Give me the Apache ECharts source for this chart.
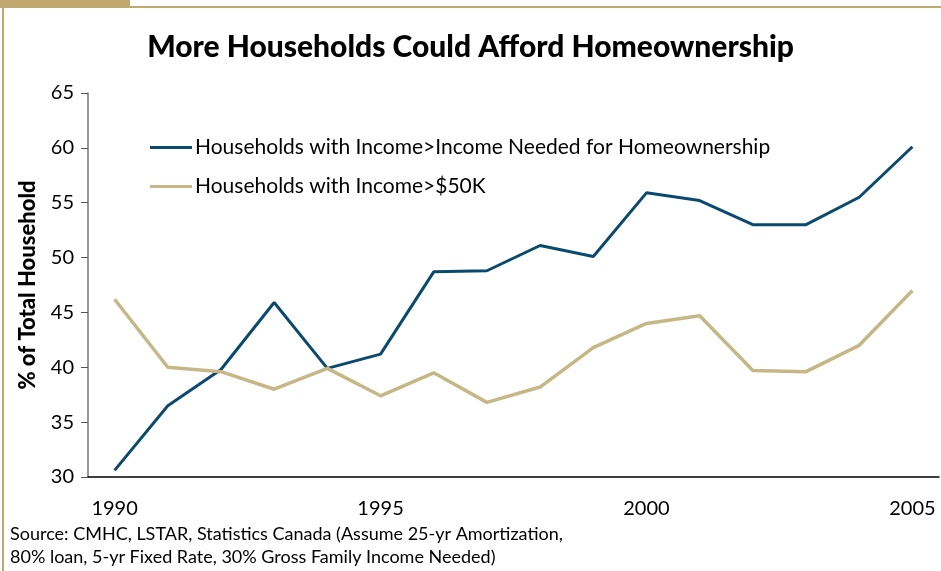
<!DOCTYPE html>
<html>
<head>
<meta charset="utf-8">
<script src="https://cdn.jsdelivr.net/npm/echarts@6/dist/echarts.min.js"></script>
<style>
  html, body { margin: 0; padding: 0; background: #fff; }
  #chart { width: 941px; height: 571px; }
</style>
</head>
<body>
<div id="chart"></div>
<script>
// years on the x axis
const years = ['1990', '1991', '1992', '1993', '1994', '1995', '1996', '1997',
  '1998', '1999', '2000', '2001', '2002', '2003', '2004', '2005']
// % of households with income above the income needed for homeownership
const affordData = [30.6, 36.5, 39.8, 45.9, 39.9, 41.2, 48.7, 48.8,
  51.1, 50.1, 55.9, 55.2, 53.0, 53.0, 55.5, 60.1]
// % of households with income above $50K
const over50kData = [46.2, 40.0, 39.6, 38.0, 39.9, 37.4, 39.5, 36.8,
  38.2, 41.8, 44.0, 44.7, 39.7, 39.6, 42.0, 47.0]
const seriesNames = ['Households with Income>Income Needed for Homeownership', 'Households with Income>$50K']

const font = 'Lato, "Open Sans", sans-serif'
const chart = echarts.init(document.getElementById('chart'))

chart.setOption({
  animation: false,
  backgroundColor: '#fff',
  title: {
    text: 'More Households Could Afford Homeownership',
    left: 'center',
    top: 27,
    textStyle: { fontFamily: font, fontWeight: 900, fontSize: 30, color: '#000' }
  },
  // frame decoration (tan bar + thin border)
  graphic: [
    { type: 'rect', shape: { x: 0, y: 0, width: 130, height: 7 }, style: { fill: '#BFA96F' } },
    { type: 'rect', shape: { x: 0, y: 6, width: 941, height: 2 }, style: { fill: '#BFA96F' } },
    { type: 'rect', shape: { x: 2, y: 6, width: 2, height: 565 }, style: { fill: '#BFA96F' } },
    {
      type: 'text', left: 10, top: 523,
      style: {
        text: 'Source: CMHC, LSTAR, Statistics Canada (Assume 25-yr Amortization,\n80% loan, 5-yr Fixed Rate, 30% Gross Family Income Needed)',
        font: '18px ' + font, fill: '#000', lineHeight: 23
      }
    }
  ],
  legend: {
    orient: 'vertical',
    left: 145,
    top: 132,
    itemGap: 18,
    itemWidth: 42,
    itemHeight: 3,
    icon: 'rect',
    textStyle: { fontFamily: font, fontSize: 21, color: '#000', padding: [0, 0, 0, -2] },
    data: seriesNames
  },
  grid: { left: 88, right: 2, top: 93, bottom: 94, containLabel: false },
  xAxis: {
    type: 'category',
    data: years,
    boundaryGap: true,
    axisLine: { lineStyle: { color: '#000', width: 1.5 } },
    axisTick: { interval: 0, length: 7, lineStyle: { color: '#555' } },
    axisLabel: { interval: 4, fontFamily: font, fontSize: 20, color: '#000', margin: 22 },
    splitLine: { show: false }
  },
  yAxis: {
    type: 'value',
    name: '% of Total Household',
    nameLocation: 'middle',
    nameGap: 49,
    nameTextStyle: { fontFamily: font, fontWeight: 900, fontSize: 22, color: '#000' },
    min: 30,
    max: 65,
    interval: 5,
    axisLine: { show: true, lineStyle: { color: '#777', width: 1.5 } },
    axisTick: { show: true, length: 7, lineStyle: { color: '#555' } },
    axisLabel: { fontFamily: font, fontSize: 20, color: '#000', margin: 14 },
    splitLine: { show: false }
  },
  series: [
    {
      name: seriesNames[0],
      type: 'line',
      data: affordData,
      symbol: 'none',
      color: '#0B4A6F',
      lineStyle: { color: '#0B4A6F', width: 3 }
    },
    {
      name: seriesNames[1],
      type: 'line',
      data: over50kData,
      symbol: 'none',
      color: '#C6B787',
      lineStyle: { color: '#C6B787', width: 3.5 }
    }
  ]
})
</script>
</body>
</html>
